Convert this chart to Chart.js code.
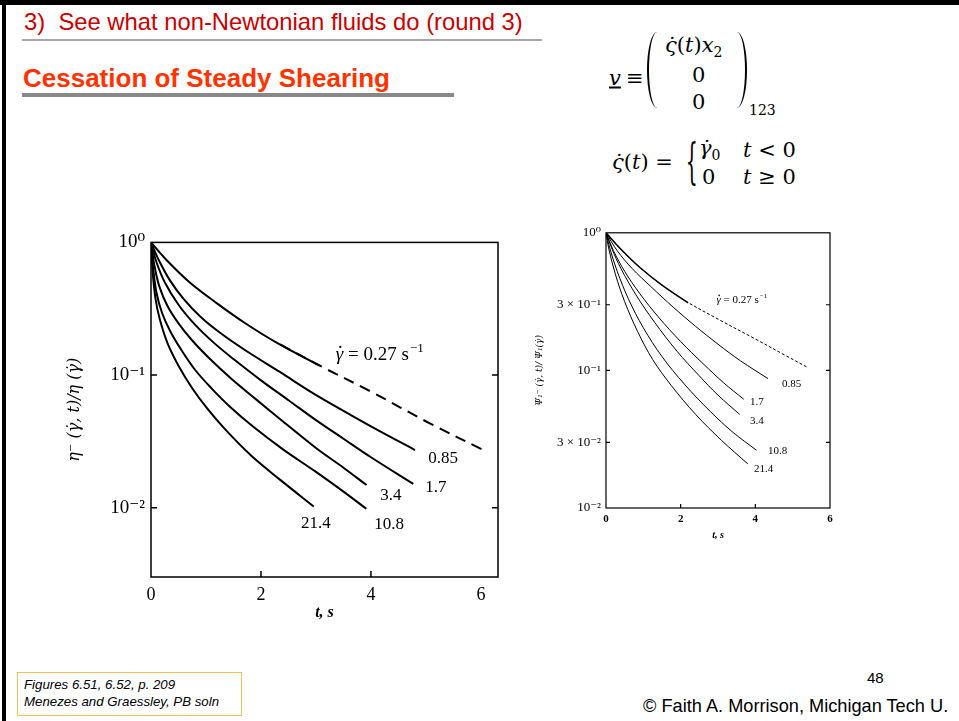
<!DOCTYPE html>
<html>
<head>
<meta charset="utf-8">
<script src="https://cdn.jsdelivr.net/npm/chart.js@4.4.1/dist/chart.umd.min.js"></script>
<style>
body{margin:0;background:#fff;width:959px;height:721px;overflow:hidden;position:relative;font-family:"Liberation Sans",Arial,sans-serif}
.abs{position:absolute;white-space:nowrap}
.m{position:absolute;white-space:nowrap;font-family:"DejaVu Serif","Liberation Serif",serif;font-size:21px;line-height:1;transform:translateY(-50%)}
.i{font-style:italic}
canvas{position:absolute}
</style>
</head>
<body>
<div class="abs" style="left:0;top:0;width:959px;height:5px;background:#000"></div>
<div class="abs" style="left:2px;top:0;width:4px;height:721px;background:#000"></div>

<div class="abs" style="left:24px;top:8px;font-size:23.8px;color:#cc0000">3)&nbsp; See what non-Newtonian fluids do (round 3)</div>
<div class="abs" style="left:22px;top:39px;width:520px;height:2px;background:#a6a6a6"></div>
<div class="abs" style="left:23px;top:63px;font-size:26px;font-weight:bold;color:#ff3300">Cessation of Steady Shearing</div>
<div class="abs" style="left:22px;top:93px;width:432px;height:4px;background:#888"></div>

<!-- velocity field -->
<div class="m i" style="left:609px;top:78px;text-decoration:underline">v</div>
<div class="m" style="left:626px;top:78px">≡</div>
<div class="abs" style="left:647px;top:32px;width:18px;height:76px;border-left:2px solid #000;border-radius:50%/50%"></div>
<div class="m" style="left:665px;top:47px"><span class="i">ς̇</span>(<span class="i">t</span>)<span class="i">x</span><sub style="font-size:14px">2</sub></div>
<div class="m" style="left:692px;top:75px">0</div>
<div class="m" style="left:692px;top:102px">0</div>
<div class="abs" style="left:727px;top:32px;width:18px;height:76px;border-right:2px solid #000;border-radius:50%/50%"></div>
<div class="m" style="left:749px;top:110px;font-size:14px">123</div>

<div class="m" style="left:612px;top:162px"><span class="i">ς̇</span>(<span class="i">t</span>) =</div>
<div class="m" style="left:685px;top:163px;transform:translateY(-50%) scale(0.9,2.3)">{</div>
<div class="m" style="left:699px;top:150px"><span class="i">γ̇</span><sub style="font-size:14px">0</sub></div>
<div class="m" style="left:743px;top:150px"><span class="i">t</span> &lt; 0</div>
<div class="m" style="left:702px;top:177px">0</div>
<div class="m" style="left:743px;top:177px"><span class="i">t</span> ≥ 0</div>

<canvas id="leftChart" width="452" height="400" style="left:60px;top:225px"></canvas>
<canvas id="rightChart" width="318" height="330" style="left:525px;top:220px"></canvas>

<div class="abs" style="left:17px;top:672px;width:225px;height:44px;border:1px solid #f2c14e;box-sizing:border-box"></div>
<div class="abs" style="left:24px;top:676px;font-size:13px;font-style:italic;line-height:17px;transform:scaleX(1.02);transform-origin:left">Figures 6.51, 6.52, p. 209<br>Menezes and Graessley, PB soln</div>
<div class="abs" style="left:867px;top:669px;font-size:15px">48</div>
<div class="abs" style="left:643px;top:696px;font-size:18.2px">© Faith A. Morrison, Michigan Tech U.</div>

<script>
var serif = '"Liberation Serif", "DejaVu Serif", serif';
var dejavu = '"DejaVu Serif", "Liberation Serif", serif';

// Fig 6.51: eta-(gamma, t)/eta(gamma) vs t, [t (s), ratio]
var left027 = [[0,1],[0.3,0.724],[0.7,0.501],[1.2,0.347],[1.7,0.248],[2.3,0.174],[3.07,0.1175]];
var left027Fit = [[2.35,0.17],[3.07,0.1175],[4,0.075],[5.07,0.0432],[6.08,0.0267]];
var left085 = [[0,1],[0.15,0.724],[0.35,0.513],[0.6,0.372],[0.9,0.275],[1.25,0.209],[1.7,0.155],[2.35,0.105],[2.92,0.0741],[3.5,0.0537],[4.1,0.0389],[4.8,0.0272]];
var left17 = [[0,1],[0.1,0.708],[0.25,0.501],[0.5,0.339],[0.8,0.24],[1.15,0.174],[1.5,0.132],[2,0.0912],[2.5,0.0646],[3,0.0457],[3.5,0.0331],[4,0.024],[4.77,0.0151]];
var left34 = [[0,1],[0.06,0.676],[0.15,0.468],[0.3,0.331],[0.5,0.245],[0.75,0.182],[1.05,0.135],[1.44,0.0955],[1.9,0.0661],[2.4,0.0447],[3,0.0282],[3.5,0.02],[3.92,0.0148]];
var left108 = [[0,1],[0.04,0.631],[0.1,0.417],[0.2,0.295],[0.35,0.214],[0.55,0.155],[0.8,0.1096],[1.1,0.0794],[1.44,0.0575],[1.89,0.0398],[2.4,0.0275],[3,0.0186],[3.5,0.0132],[3.915,0.0098]];
var left214 = [[0,1],[0.03,0.603],[0.08,0.38],[0.16,0.263],[0.3,0.174],[0.5,0.1175],[0.75,0.0794],[1,0.0575],[1.35,0.0389],[1.83,0.0245],[2.35,0.0162],[2.96,0.0102]];

// Fig 6.52: Psi1-(gamma, t)/Psi1(gamma) vs t
var right027 = [[0,1],[0.4,0.759],[0.9,0.562],[1.5,0.417],[2.2,0.31]];
var right027Fit = [[0,1],[0.4,0.759],[0.9,0.562],[1.5,0.417],[2.16,0.316],[3.05,0.232],[3.95,0.172],[4.84,0.127],[5.375,0.106]];
var right085 = [[0,1],[0.3,0.741],[0.7,0.55],[1.2,0.407],[1.8,0.288],[2.4,0.209],[3,0.155],[3.6,0.1175],[4.34,0.0871]];
var right17 = [[0,1],[0.2,0.741],[0.5,0.525],[0.9,0.363],[1.4,0.245],[2,0.162],[2.6,0.112],[3.15,0.0813],[3.69,0.0617]];
var right34 = [[0,1],[0.15,0.776],[0.4,0.55],[0.8,0.355],[1.3,0.224],[1.9,0.138],[2.5,0.0912],[3,0.0661],[3.58,0.0479]];
var right108 = [[0,1],[0.1,0.776],[0.3,0.525],[0.6,0.331],[1,0.204],[1.5,0.126],[2.1,0.0794],[2.8,0.0501],[3.4,0.0355],[4.03,0.0263]];
var right214 = [[0,1],[0.07,0.776],[0.25,0.501],[0.5,0.316],[0.85,0.191],[1.25,0.12],[1.75,0.0776],[2.4,0.0479],[3.1,0.0309],[3.8,0.0209]];

var rateLabels = ['0.85', '1.7', '3.4', '10.8', '21.4'];
var xTicks = [0, 2, 4, 6];
var leftYTicks = [1, 0.1, 0.01];
var leftYLabels = ['10⁰', '10⁻¹', '10⁻²'];
var rightYTicks = [1, 0.3, 0.1, 0.03, 0.01];
var rightYLabels = ['10⁰', '3 × 10⁻¹', '10⁻¹', '3 × 10⁻²', '10⁻²'];

// where the curve names sit, [t, ratio]
var leftTagAt = [[5.31,0.0234],[5.18,0.0141],[4.36,0.01227],[4.33,0.0075],[3.0,0.00762]];
var leftGammaAt = [4.16, 0.1417];
var rightTagAt = [[4.97,0.0796],[4.04,0.0591],[4.04,0.0425],[4.6,0.0258],[4.22,0.0192]];
var rightGammaAt = [3.64, 0.3247];

function pts(arr) {
	return arr.map(function(p) { return {x: p[0], y: p[1]}; });
}

function curve(arr, width, dash) {
	return {
		data: pts(arr),
		borderColor: '#000',
		borderWidth: width,
		borderDash: dash || [],
		pointRadius: 0,
		fill: false,
		tension: 0.35
	};
}

var frame = {
	id: 'frame',
	afterDatasetsDraw: function(chart, args, opts) {
		var ctx = chart.ctx, a = chart.chartArea;
		var xs = chart.scales.x, ys = chart.scales.y;
		ctx.save();
		ctx.strokeStyle = '#000';
		ctx.lineWidth = opts.lw;
		ctx.strokeRect(a.left, a.top, a.right - a.left, a.bottom - a.top);
		ctx.beginPath();
		opts.yMarks.forEach(function(v) {
			var p = ys.getPixelForValue(v);
			ctx.moveTo(a.left, p); ctx.lineTo(a.left + opts.len, p);
			ctx.moveTo(a.right, p); ctx.lineTo(a.right - opts.len, p);
		});
		opts.xMarks.forEach(function(v) {
			var p = xs.getPixelForValue(v);
			ctx.moveTo(p, a.bottom); ctx.lineTo(p, a.bottom - opts.len);
		});
		ctx.stroke();

		ctx.fillStyle = '#000';
		ctx.textBaseline = 'middle';
		ctx.textAlign = 'center';
		ctx.font = opts.fontSize + 'px ' + serif;
		opts.tags.forEach(function(tg, i) {
			ctx.fillText(rateLabels[i], xs.getPixelForValue(tg[0]), ys.getPixelForValue(tg[1]));
		});

		// gamma-dot label: italic gamma with a dot, then "= 0.27 s", then raised "-1"
		var fs = opts.gammaSize;
		var gx = xs.getPixelForValue(opts.gamma[0]), gy = ys.getPixelForValue(opts.gamma[1]);
		var italic = 'italic ' + fs + 'px ' + serif, plain = fs + 'px ' + serif, small = Math.round(fs * 0.68) + 'px ' + serif;
		var mid = ' = 0.27 s';
		ctx.font = italic;
		var w1 = ctx.measureText('γ').width;
		ctx.font = plain;
		var w2 = ctx.measureText(mid).width;
		ctx.font = small;
		var w3 = ctx.measureText('−1').width + 1;
		var x0 = gx - (w1 + w2 + w3) / 2;
		ctx.textAlign = 'left';
		ctx.font = italic;
		ctx.fillText('γ', x0, gy);
		ctx.beginPath();
		ctx.arc(x0 + w1 * 0.6, gy - fs * 0.42, Math.max(0.8, fs * 0.06), 0, Math.PI * 2);
		ctx.fill();
		ctx.font = plain;
		ctx.fillText(mid, x0 + w1, gy);
		ctx.font = small;
		ctx.fillText('−1', x0 + w1 + w2 + 1, gy - fs * 0.35);
		ctx.restore();
	}
};

var makeChart = function(elementId, datasets, cfg) {
	var ctx = document.getElementById(elementId).getContext('2d');
	return new Chart(ctx, {
		type: 'line',
		data: {datasets: datasets},
		plugins: [frame],
		options: {
			responsive: false,
			animation: false,
			layout: {padding: cfg.padding},
			plugins: {
				legend: {display: false},
				tooltip: {enabled: false},
				frame: cfg.frame
			},
			scales: {
				x: {
					type: 'linear',
					min: 0,
					max: cfg.xMax,
					grid: {display: false, drawTicks: false},
					border: {display: false},
					afterBuildTicks: function(s) { s.ticks = xTicks.map(function(v) { return {value: v}; }); },
					afterFit: function(s) { s.height = cfg.xHeight; },
					ticks: {
						color: '#000',
						padding: cfg.xTickPad,
						maxRotation: 0,
						font: {family: serif, size: cfg.xTickSize, weight: cfg.xTickWeight},
						callback: function(v) { return String(v); }
					},
					title: {
						display: true,
						text: 't, s',
						color: '#000',
						padding: {top: 0, bottom: cfg.xTitlePad},
						font: {family: serif, size: cfg.xTitleSize, style: 'italic', weight: 'bold'}
					}
				},
				y: {
					type: 'logarithmic',
					min: cfg.yMin,
					max: 1,
					grid: {display: false, drawTicks: false},
					border: {display: false},
					afterBuildTicks: function(s) { s.ticks = cfg.yTicks.map(function(v) { return {value: v}; }); },
					afterFit: function(s) { s.width = cfg.yWidth; },
					ticks: {
						color: '#000',
						padding: cfg.yTickPad,
						autoSkip: false,
						font: {family: serif, size: cfg.yTickSize},
						callback: function(v, i) { return cfg.yLabels[i]; }
					},
					title: {
						display: true,
						text: cfg.yTitle,
						color: '#000',
						padding: {top: cfg.yTitlePad, bottom: 0},
						font: {family: dejavu, size: cfg.yTitleSize, style: 'italic'}
					}
				}
			}
		}
	});
};

makeChart('leftChart', [
	curve(left027, 2),
	curve(left027Fit, 2, [11, 7]),
	curve(left085, 2),
	curve(left17, 2),
	curve(left34, 2),
	curve(left108, 2),
	curve(left214, 2)
], {
	padding: {top: 10, right: 14, bottom: 0, left: 0},
	xMax: 6.31, yMin: 0.003,
	xHeight: 48, yWidth: 91,
	xTickPad: 7, xTickSize: 18, xTickWeight: 'normal',
	xTitlePad: 3, xTitleSize: 16,
	yTicks: leftYTicks, yLabels: leftYLabels,
	yTickPad: 6, yTickSize: 19,
	yTitle: 'η⁻ (γ̇, t)/η (γ̇)', yTitlePad: 5, yTitleSize: 16,
	frame: {lw: 1.5, len: 6, yMarks: [0.1, 0.01], xMarks: [2, 4], tags: leftTagAt, gamma: leftGammaAt, fontSize: 17, gammaSize: 19}
});

makeChart('rightChart', [
	curve(right027, 1.5),
	curve(right027Fit, 1, [3, 2]),
	curve(right085, 1),
	curve(right17, 1),
	curve(right34, 1),
	curve(right108, 1),
	curve(right214, 1)
], {
	padding: {top: 10, right: 13, bottom: 0, left: 0},
	xMax: 6, yMin: 0.01,
	xHeight: 42, yWidth: 81,
	xTickPad: 5, xTickSize: 11, xTickWeight: 'bold',
	xTitlePad: 9, xTitleSize: 10,
	yTicks: rightYTicks, yLabels: rightYLabels,
	yTickPad: 5, yTickSize: 13,
	yTitle: 'Ψ₁⁻ (γ̇, t)/ Ψ₁(γ̇)', yTitlePad: 9, yTitleSize: 9,
	frame: {lw: 1.2, len: 4, yMarks: [0.3, 0.1, 0.03], xMarks: [2, 4], tags: rightTagAt, gamma: rightGammaAt, fontSize: 11, gammaSize: 11}
});
</script>
</body>
</html>
